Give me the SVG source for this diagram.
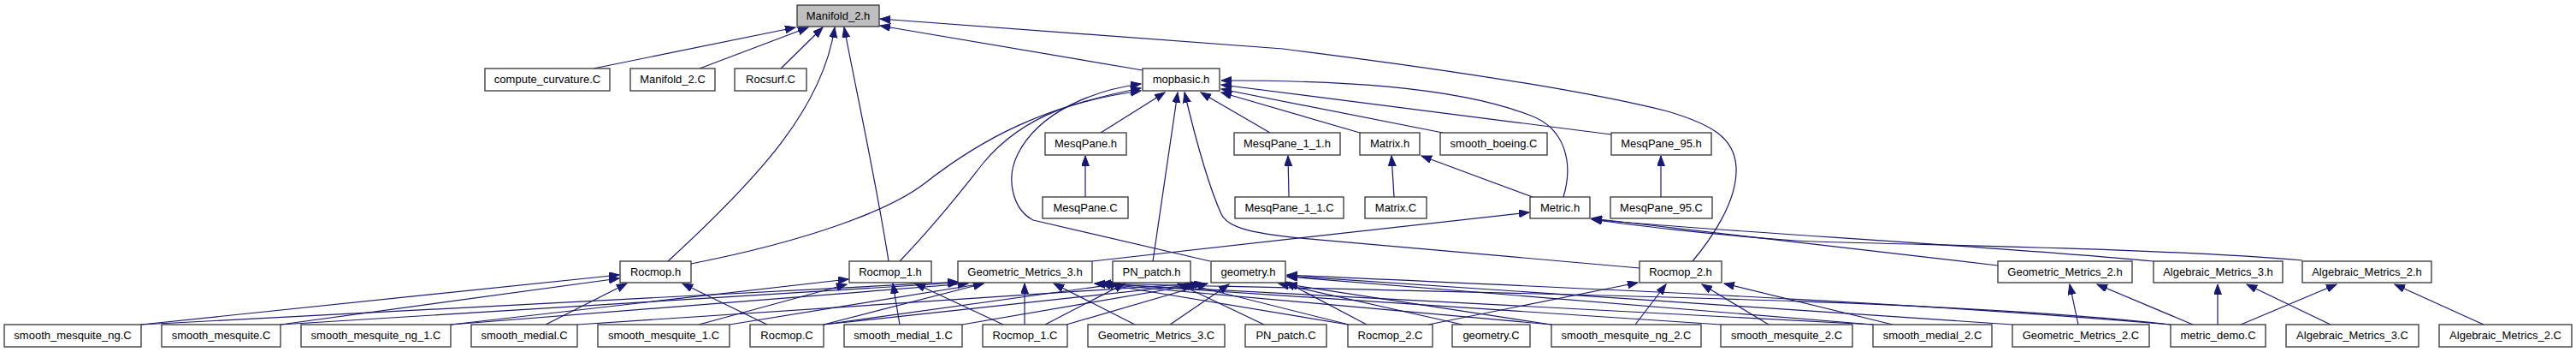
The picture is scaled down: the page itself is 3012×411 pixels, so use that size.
<svg xmlns="http://www.w3.org/2000/svg" width="3012" height="411" viewBox="0 0 3012 411">
<style>
.n rect{fill:#ffffff;stroke:#333333;stroke-width:1.3}
.n.root rect{fill:#bfbfbf}
.n text{font-family:"Liberation Sans",Arial,sans-serif;font-size:13px;fill:#000000;text-anchor:middle}
#edges path{fill:none;stroke:#191970;stroke-width:1.2;marker-end:url(#arr)}
</style>
<defs>
<marker id="arr" markerUnits="userSpaceOnUse" markerWidth="14" markerHeight="11" refX="12" refY="4.5" orient="auto">
<path d="M0,0 L12,4.5 L0,9 z" fill="#191970" stroke="#191970" stroke-width="1"/>
</marker>
</defs>
<rect width="3012" height="411" fill="#ffffff"/>
<g id="edges">
<!-- to Manifold_2.h -->
<path d="M694,80 L930,32"/>
<path d="M818,80 L945,32"/>
<path d="M913,80 L962,32"/>
<path d="M781,305 C890,205 962,125 976,32"/>
<path d="M1039,305 C1025,215 1002,110 987,32"/>
<path d="M1336,82 L1029,30"/>
<path d="M1979,305 C2000,280 2032,235 2030,195 C2028,160 2000,145 1950,130 C1850,105 1700,82 1500,57 L1029,22"/>
<!-- to mopbasic.h -->
<path d="M1287,155 L1362,108"/>
<path d="M1348,305 L1377,108"/>
<path d="M1485,155 L1404,108"/>
<path d="M1590,155 L1428,108"/>
<path d="M1687,155 L1428,104"/>
<path d="M1884,157 L1428,99"/>
<path d="M1828,230 C1840,190 1830,150 1790,135 C1700,100 1560,94 1428,94"/>
<path d="M808,308 C950,280 1040,245 1080,215 C1150,160 1220,125 1334,103"/>
<path d="M1052,305 C1100,255 1130,215 1150,190 C1200,130 1270,115 1334,106"/>
<path d="M1415,305 L1208,257 C1185,245 1175,210 1190,180 C1215,130 1280,105 1334,98"/>
<path d="M1917,313 L1520,278 C1460,272 1435,265 1428,250 C1410,210 1395,150 1385,108"/>
<!-- rows 2/3 -->
<path d="M1269,230 L1269,182"/>
<path d="M1507,230 L1506,182"/>
<path d="M1630,230 L1627,182"/>
<path d="M1792,230 L1662,182"/>
<path d="M1942,230 L1942,182"/>
<!-- to Metric.h -->
<path d="M1277,305 L1788,248"/>
<path d="M2336,310 L1861,255"/>
<path d="M2518,305 C2300,285 2000,270 1861,256"/>
<path d="M2692,304 C2500,288 2200,286 2100,281 C2000,274 1900,262 1861,256"/>
<!-- to Rocmop.h -->
<path d="M165,379 L724,321"/>
<path d="M328,379 L724,325"/>
<path d="M638,379 L733,331"/>
<path d="M897,379 L798,331"/>
<!-- to Rocmop_1.h -->
<path d="M527,379 L992,326"/>
<path d="M817,379 L990,332"/>
<path d="M1052,379 L1044,331"/>
<path d="M1173,379 L1070,331"/>
<!-- to Geometric_Metrics_3.h -->
<path d="M165,379 L1120,329"/>
<path d="M328,379 L1121,330"/>
<path d="M527,379 L1132,331"/>
<path d="M853,379 L1150,331"/>
<path d="M963,379 L1150,331"/>
<path d="M1198,379 L1198,331"/>
<path d="M1327,379 L1232,331"/>
<path d="M1576,379 L1287,331"/>
<path d="M1814,379 L1280,331"/>
<path d="M2012,379 L1287,331"/>
<path d="M2190,379 L1280,331"/>
<path d="M2538,379 C2300,352 1900,345 1287,331"/>
<!-- to PN_patch.h -->
<path d="M963,379 L1310,331"/>
<path d="M1222,379 L1315,331"/>
<path d="M1478,379 L1377,331"/>
<path d="M1577,379 L1385,331"/>
<!-- to geometry.h -->
<path d="M675,379 L1400,331"/>
<path d="M963,379 L1408,331"/>
<path d="M1125,379 L1400,332"/>
<path d="M1247,379 L1412,331"/>
<path d="M1368,379 L1437,332"/>
<path d="M1598,379 L1503,329"/>
<path d="M1710,379 L1495,331"/>
<path d="M1814,379 L1505,332"/>
<path d="M2190,379 L1505,323"/>
<path d="M2353,379 L1505,322"/>
<path d="M2538,379 C2200,350 1800,335 1505,321"/>
<!-- to Rocmop_2.h -->
<path d="M1670,379 L1915,330"/>
<path d="M1912,379 L1948,332"/>
<path d="M2068,379 L1990,332"/>
<path d="M2213,379 L2016,331"/>
<!-- to Geometric_Metrics_2.h / Algebraic -->
<path d="M2430,379 L2420,332"/>
<path d="M2564,379 L2452,332"/>
<path d="M2593,379 L2593,332"/>
<path d="M2725,379 L2627,332"/>
<path d="M2620,379 L2732,332"/>
<path d="M2904,379 L2800,332"/>
</g>
<g id="n_manifold_2_h" class="n root"><rect x="932" y="6" width="96" height="25"/><text x="980" y="23">Manifold_2.h</text></g>
<g id="n_compute_curvature_c" class="n"><rect x="567" y="80" width="146" height="26"/><text x="640" y="97">compute_curvature.C</text></g>
<g id="n_manifold_2_c" class="n"><rect x="737" y="80" width="99" height="26"/><text x="786.5" y="97">Manifold_2.C</text></g>
<g id="n_rocsurf_c" class="n"><rect x="859" y="80" width="84" height="26"/><text x="901" y="97">Rocsurf.C</text></g>
<g id="n_mopbasic_h" class="n"><rect x="1336" y="80" width="90" height="26"/><text x="1381" y="97">mopbasic.h</text></g>
<g id="n_mesqpane_h" class="n"><rect x="1222" y="155" width="95" height="26"/><text x="1269.5" y="172">MesqPane.h</text></g>
<g id="n_mesqpane_1_1_h" class="n"><rect x="1443" y="155" width="124" height="26"/><text x="1505" y="172">MesqPane_1_1.h</text></g>
<g id="n_matrix_h" class="n"><rect x="1590" y="155" width="70" height="26"/><text x="1625" y="172">Matrix.h</text></g>
<g id="n_smooth_boeing_c" class="n"><rect x="1684" y="155" width="125" height="26"/><text x="1746.5" y="172">smooth_boeing.C</text></g>
<g id="n_mesqpane_95_h" class="n"><rect x="1884" y="155" width="117" height="26"/><text x="1942.5" y="172">MesqPane_95.h</text></g>
<g id="n_mesqpane_c" class="n"><rect x="1219" y="230" width="100" height="25"/><text x="1269" y="247">MesqPane.C</text></g>
<g id="n_mesqpane_1_1_c" class="n"><rect x="1444" y="230" width="127" height="25"/><text x="1507.5" y="247">MesqPane_1_1.C</text></g>
<g id="n_matrix_c" class="n"><rect x="1596" y="230" width="72" height="25"/><text x="1632" y="247">Matrix.C</text></g>
<g id="n_metric_h" class="n"><rect x="1789" y="230" width="70" height="25"/><text x="1824" y="247">Metric.h</text></g>
<g id="n_mesqpane_95_c" class="n"><rect x="1883" y="230" width="119" height="25"/><text x="1942.5" y="247">MesqPane_95.C</text></g>
<g id="n_rocmop_h" class="n"><rect x="725" y="305" width="83" height="25"/><text x="766.5" y="322">Rocmop.h</text></g>
<g id="n_rocmop_1_h" class="n"><rect x="993" y="305" width="96" height="25"/><text x="1041" y="322">Rocmop_1.h</text></g>
<g id="n_geometric_metrics_3_h" class="n"><rect x="1120" y="305" width="157" height="25"/><text x="1198.5" y="322">Geometric_Metrics_3.h</text></g>
<g id="n_pn_patch_h" class="n"><rect x="1301" y="305" width="91" height="25"/><text x="1346.5" y="322">PN_patch.h</text></g>
<g id="n_geometry_h" class="n"><rect x="1416" y="305" width="87" height="25"/><text x="1459.5" y="322">geometry.h</text></g>
<g id="n_rocmop_2_h" class="n"><rect x="1917" y="305" width="96" height="25"/><text x="1965" y="322">Rocmop_2.h</text></g>
<g id="n_geometric_metrics_2_h" class="n"><rect x="2336" y="305" width="157" height="25"/><text x="2414.5" y="322">Geometric_Metrics_2.h</text></g>
<g id="n_algebraic_metrics_3_h" class="n"><rect x="2518" y="305" width="151" height="25"/><text x="2593.5" y="322">Algebraic_Metrics_3.h</text></g>
<g id="n_algebraic_metrics_2_h" class="n"><rect x="2692" y="305" width="151" height="25"/><text x="2767.5" y="322">Algebraic_Metrics_2.h</text></g>
<g id="n_smooth_mesquite_ng_c" class="n"><rect x="5" y="379" width="160" height="26"/><text x="85" y="396">smooth_mesquite_ng.C</text></g>
<g id="n_smooth_mesquite_c" class="n"><rect x="189" y="379" width="139" height="26"/><text x="258.5" y="396">smooth_mesquite.C</text></g>
<g id="n_smooth_mesquite_ng_1_c" class="n"><rect x="352" y="379" width="175" height="26"/><text x="439.5" y="396">smooth_mesquite_ng_1.C</text></g>
<g id="n_smooth_medial_c" class="n"><rect x="551" y="379" width="124" height="26"/><text x="613" y="396">smooth_medial.C</text></g>
<g id="n_smooth_mesquite_1_c" class="n"><rect x="699" y="379" width="154" height="26"/><text x="776" y="396">smooth_mesquite_1.C</text></g>
<g id="n_rocmop_c" class="n"><rect x="877" y="379" width="86" height="26"/><text x="920" y="396">Rocmop.C</text></g>
<g id="n_smooth_medial_1_c" class="n"><rect x="987" y="379" width="138" height="26"/><text x="1056" y="396">smooth_medial_1.C</text></g>
<g id="n_rocmop_1_c" class="n"><rect x="1149" y="379" width="99" height="26"/><text x="1198.5" y="396">Rocmop_1.C</text></g>
<g id="n_geometric_metrics_3_c" class="n"><rect x="1272" y="379" width="160" height="26"/><text x="1352" y="396">Geometric_Metrics_3.C</text></g>
<g id="n_pn_patch_c" class="n"><rect x="1456" y="379" width="95" height="26"/><text x="1503.5" y="396">PN_patch.C</text></g>
<g id="n_rocmop_2_c" class="n"><rect x="1576" y="379" width="99" height="26"/><text x="1625.5" y="396">Rocmop_2.C</text></g>
<g id="n_geometry_c" class="n"><rect x="1698" y="379" width="91" height="26"/><text x="1743.5" y="396">geometry.C</text></g>
<g id="n_smooth_mesquite_ng_2_c" class="n"><rect x="1814" y="379" width="175" height="26"/><text x="1901.5" y="396">smooth_mesquite_ng_2.C</text></g>
<g id="n_smooth_mesquite_2_c" class="n"><rect x="2012" y="379" width="154" height="26"/><text x="2089" y="396">smooth_mesquite_2.C</text></g>
<g id="n_smooth_medial_2_c" class="n"><rect x="2190" y="379" width="139" height="26"/><text x="2259.5" y="396">smooth_medial_2.C</text></g>
<g id="n_geometric_metrics_2_c" class="n"><rect x="2353" y="379" width="160" height="26"/><text x="2433" y="396">Geometric_Metrics_2.C</text></g>
<g id="n_metric_demo_c" class="n"><rect x="2538" y="379" width="111" height="26"/><text x="2593.5" y="396">metric_demo.C</text></g>
<g id="n_algebraic_metrics_3_c" class="n"><rect x="2673" y="379" width="155" height="26"/><text x="2750.5" y="396">Algebraic_Metrics_3.C</text></g>
<g id="n_algebraic_metrics_2_c" class="n"><rect x="2852" y="379" width="155" height="26"/><text x="2929.5" y="396">Algebraic_Metrics_2.C</text></g>
</svg>
